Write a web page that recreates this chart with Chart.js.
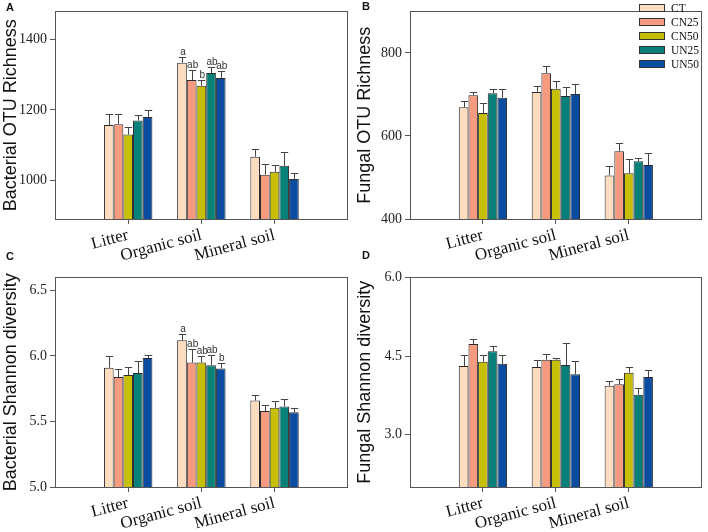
<!DOCTYPE html>
<html>
<head>
<meta charset="utf-8">
<script src="https://cdn.jsdelivr.net/npm/chart.js@4.4.1/dist/chart.umd.min.js"></script>
<style>
body{margin:0;background:#fff;}
#wrap{position:relative;width:708px;height:532px;overflow:hidden;background:#fff;}
.panel{position:absolute;}
.tag{position:absolute;font:bold 11px "Liberation Sans",Arial,sans-serif;color:#111;}
</style>
</head>
<body>
<div id="wrap">
<div class="panel" style="left:0;top:0;width:354px;height:280px"><canvas id="cA"></canvas></div>
<div class="panel" style="left:354px;top:0;width:354px;height:280px"><canvas id="cB"></canvas></div>
<div class="panel" style="left:0;top:266px;width:354px;height:266px"><canvas id="cC"></canvas></div>
<div class="panel" style="left:354px;top:266px;width:354px;height:266px"><canvas id="cD"></canvas></div>
<div class="tag" style="left:6px;top:1px">A</div>
<div class="tag" style="left:362px;top:0px">B</div>
<div class="tag" style="left:6px;top:250px">C</div>
<div class="tag" style="left:362px;top:249px">D</div>
</div>
<script>

const categories = ["Litter","Organic soil","Mineral soil"];
const treatments = ["CT","CN25","CN50","UN25","UN50"];
const colors = ["#fddcc0","#f79b80","#c6bf05","#07807a","#0a4ca0"];

// rows: CT, CN25, CN50, UN25, UN50 / columns: Litter, Organic soil, Mineral soil
const bactRich = [
[1157,1334,1067],
[1159,1285,1016],
[1130,1269,1024],
[1170,1305,1041],
[1180,1291,1004]
];
const bactRichSE = [
[30,17,21],
[30,29,29],
[21,17,20],
[15,18,39],
[20,21,16]
];
const bactRichLetters = [
["","a",""],
["","ab",""],
["","b",""],
["","ab",""],
["","ab",""]
];

const fungRich = [
[669,706,505],
[698,751,563],
[655,714,510],
[703,696,539],
[692,701,530]
];
const fungRichSE = [
[14,15,22],
[7,17,20],
[25,19,35],
[11,22,7],
[22,25,28]
];

const bactShan = [
[5.91,6.12,5.66],
[5.84,5.95,5.58],
[5.855,5.95,5.605],
[5.87,5.93,5.615],
[5.985,5.905,5.57]
];
const bactShanSE = [
[0.09,0.05,0.045],
[0.06,0.10,0.045],
[0.06,0.05,0.05],
[0.09,0.08,0.06],
[0.025,0.045,0.03]
];
const bactShanLetters = [
["","a",""],
["","ab",""],
["","ab",""],
["","ab",""],
["","b",""]
];

const fungShan = [
[4.31,4.29,3.93],
[4.73,4.43,3.96],
[4.39,4.43,4.18],
[4.59,4.33,3.76],
[4.35,4.15,4.10]
];
const fungShanSE = [
[0.21,0.13,0.10],
[0.09,0.11,0.10],
[0.13,0.04,0.11],
[0.10,0.42,0.13],
[0.16,0.26,0.14]
];

const ticksA = [1000,1200,1400];
const ticksB = [400,600,800];
const ticksC = [5.0,5.5,6.0,6.5];
const ticksD = [3.0,4.5,6.0];

const labels = ["", ...categories, ""];

const frame = {
  id:"frame",
  afterDraw(chart){
    const {ctx, chartArea:a} = chart;
    ctx.save();
    ctx.strokeStyle = "#555";
    ctx.lineWidth = 1;
    ctx.strokeRect(Math.round(a.left)+0.5, Math.round(a.top)+0.5, Math.round(a.right-a.left)-1, Math.round(a.bottom-a.top));
    ctx.restore();
  }
};

const errorBars = {
  id:"errorBars",
  afterDatasetsDraw(chart){
    const ctx = chart.ctx;
    const ys = chart.scales.y;
    ctx.save();
    ctx.strokeStyle = "#444";
    ctx.lineWidth = 1;
    ctx.fillStyle = "#333";
    ctx.font = '10px "Liberation Sans", Arial, sans-serif';
    ctx.textAlign = "center";
    ctx.textBaseline = "bottom";
    chart.data.datasets.forEach((ds,di)=>{
      const meta = chart.getDatasetMeta(di);
      meta.data.forEach((bar,i)=>{
        const v = ds.data[i];
        if(v==null) return;
        const top = Math.round(ys.getPixelForValue(v + ds.se[i])) + 0.5;
        const x = Math.round(bar.x) + 0.5;
        const cap = bar.width*0.38;
        ctx.beginPath();
        ctx.moveTo(x, bar.y);
        ctx.lineTo(x, top);
        ctx.moveTo(x-cap, top);
        ctx.lineTo(x+cap, top);
        ctx.stroke();
        if(ds.letters && ds.letters[i]){
          ctx.fillText(ds.letters[i], bar.x+1, top);
        }
      });
    });
    ctx.restore();
  }
};

const boxLegend = {
  id:"boxLegend",
  afterDraw(chart, args, opts){
    if(!opts.show) return;
    const ctx = chart.ctx;
    ctx.save();
    ctx.font = '11.5px "Liberation Serif", serif';
    ctx.textBaseline = "middle";
    chart.data.datasets.forEach((ds,i)=>{
      const yy = 8 + i*14;
      ctx.fillStyle = ds.backgroundColor;
      ctx.fillRect(285, yy-4, 26, 8);
      ctx.strokeStyle = "#333";
      ctx.lineWidth = 1;
      ctx.strokeRect(285.5, yy-3.5, 25, 7);
      ctx.fillStyle = "#111";
      ctx.fillText(ds.label, 317, yy+0.5);
    });
    ctx.restore();
  }
};

function makeChart(id, title, values, se, letters, tickVals, min, max, decimals, axisW, axisH, pad, legend){
  const datasets = treatments.map((t,k)=>({
    label:t,
    data:[null, ...values[k], null],
    se:[null, ...se[k], null],
    letters: letters ? ["", ...letters[k], ""] : null,
    backgroundColor:colors[k],
    borderColor:"#2b2b2b",
    borderWidth:1,
    categoryPercentage:0.662,
    barPercentage:1.0
  }));
  return new Chart(document.getElementById(id),{
    type:"bar",
    data:{labels:labels, datasets:datasets},
    options:{
      responsive:true,
      maintainAspectRatio:false,
      animation:false,
      layout:{padding:pad},
      plugins:{
        legend:{display:false},
        tooltip:{enabled:false},
        boxLegend:{show:legend}
      },
      scales:{
        x:{
          offset:false,
          grid:{offset:false, drawOnChartArea:false, drawTicks:true, tickLength:5,
            color:c => (c.tick && c.tick.label) ? "#555" : "rgba(0,0,0,0)"},
          border:{display:false},
          ticks:{autoSkip:false, minRotation:15, maxRotation:15, padding:1, color:"#111",
            font:{family:"Liberation Serif", size:17}},
          afterFit(s){ s.height = axisH; }
        },
        y:{
          min:min, max:max,
          grid:{drawOnChartArea:false, drawTicks:true, tickLength:5, color:"#555"},
          border:{display:false},
          title:{display:true, text:title, color:"#111", padding:0,
            font:{family:"Liberation Sans", size:18}},
          ticks:{padding:3, color:"#222", font:{family:"Liberation Serif", size:14},
            callback:v => Number(v).toFixed(decimals)},
          afterBuildTicks(s){ s.ticks = tickVals.map(v=>({value:v})); },
          afterFit(s){ s.width = axisW; }
        }
      }
    },
    plugins:[frame, errorBars, boxLegend]
  });
}

makeChart("cA","Bacterial OTU Richness",bactRich,bactRichSE,bactRichLetters,ticksA,890,1480,0,55,47,{top:1,right:3,left:0,bottom:14},false);
makeChart("cB","Fungal OTU Richness",fungRich,fungRichSE,null,ticksB,400,900,0,56,47,{top:1,right:2,left:0,bottom:14},true);
makeChart("cC","Bacterial Shannon diversity",bactShan,bactShanSE,bactShanLetters,ticksC,5.0,6.6,1,55,45,{top:3,right:3,left:0,bottom:0},false);
makeChart("cD","Fungal Shannon diversity",fungShan,fungShanSE,null,ticksD,2.0,6.0,1,56,45,{top:3,right:2,left:0,bottom:0},false);
</script>
</body>
</html>
